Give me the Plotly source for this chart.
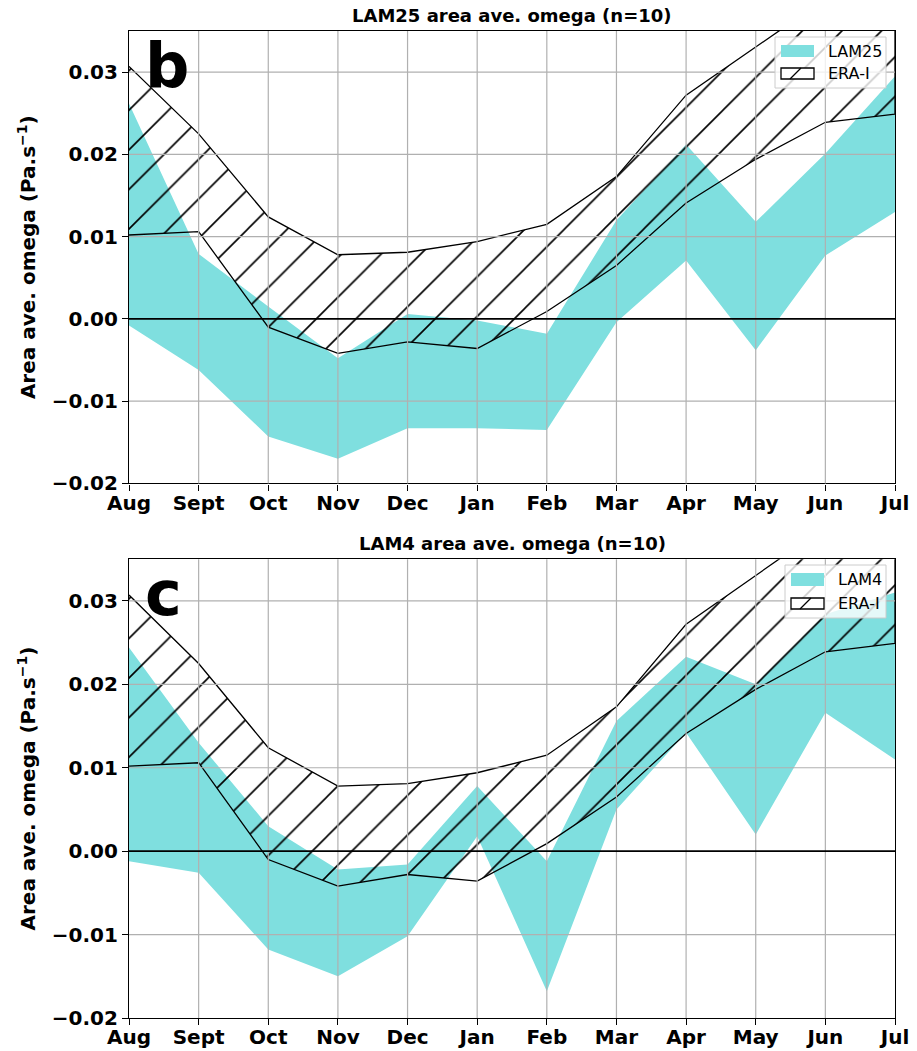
import plotly.graph_objects as go

months = ["Aug", "Sept", "Oct", "Nov", "Dec", "Jan", "Feb", "Mar", "Apr", "May", "Jun", "Jul"]
era_upper = [0.0307, 0.0225, 0.0124, 0.0078, 0.0081, 0.0094, 0.0115, 0.0173, 0.0272, 0.0330, 0.0389, 0.0430]
era_lower = [0.0102, 0.0106, -0.0010, -0.0042, -0.0028, -0.0036, 0.0009, 0.0065, 0.0141, 0.0194, 0.0239, 0.0249]
lam25_upper = [0.0262, 0.0079, 0.0015, -0.0048, 0.0006, -0.0002, -0.0018, 0.0120, 0.0212, 0.0118, 0.0201, 0.0295]
lam25_lower = [-0.0008, -0.0062, -0.0143, -0.0170, -0.0133, -0.0133, -0.0135, -0.0004, 0.0071, -0.0038, 0.0077, 0.0130]
lam4_upper = [0.0244, 0.0130, 0.0030, -0.0022, -0.0016, 0.0078, -0.0012, 0.0156, 0.0233, 0.0200, 0.0284, 0.0310]
lam4_lower = [-0.0012, -0.0026, -0.0118, -0.0150, -0.0102, 0.0018, -0.0168, 0.0050, 0.0142, 0.0020, 0.0166, 0.0110]
ytick_vals = [-0.02, -0.01, 0.0, 0.01, 0.02, 0.03]
ytick_text = ["\u22120.02", "\u22120.01", "0.00", "0.01", "0.02", "0.03"]
panels = [("LAM25", lam25_upper, lam25_lower, "b", "LAM25 area ave. omega (n=10)"),
          ("LAM4", lam4_upper, lam4_lower, "c", "LAM4 area ave. omega (n=10)")]

CYAN = "#7fdfdf"
FONT = "DejaVu Sans"
W, H = 917, 1051
ML, MR, MT, MB = 129, 22, 31, 33
idx = list(range(len(months)))
xpoly = idx + idx[::-1]

# pixel extents of the two plot areas (top, bottom)
PANEL_PX = [(31.0, 483.4), (559.2, 1018.0)]
paper_h = H - MT - MB
domains = [[(H - MB - b) / paper_h, (H - MB - t) / paper_h] for t, b in PANEL_PX]
domains[0][1] = 1.0
domains[1][0] = 0.0

fig = go.Figure()
for i, (name, up, lo, letter, title) in enumerate(panels):
    ax = "" if i == 0 else "2"
    fig.add_trace(go.Scatter(
        x=xpoly, y=up + lo[::-1], fill="toself", fillcolor=CYAN,
        mode="lines", line=dict(width=0, color=CYAN), name=name,
        xaxis="x" + ax, yaxis="y" + ax, showlegend=False, hoverinfo="skip"))
    fig.add_trace(go.Scatter(
        x=xpoly, y=era_upper + era_lower[::-1], fill="toself",
        fillcolor="rgba(0,0,0,0)",
        fillpattern=dict(shape="/", fgcolor="black", bgcolor="rgba(0,0,0,0)",
                         fgopacity=1, size=28, solidity=0.058),
        mode="lines", line=dict(width=1.3, color="black"), name="ERA-I",
        xaxis="x" + ax, yaxis="y" + ax, showlegend=False, hoverinfo="skip"))

axis_common = dict(showline=True, mirror=True, linecolor="black", linewidth=1.3,
                   ticks="outside", ticklen=6, tickwidth=1.3, tickcolor="black",
                   showgrid=False, zeroline=False, automargin=False,
                   tickfont=dict(family=FONT, size=20, color="black", weight="bold"))


def fx(px):
    return (px - ML) / (W - ML - MR)


def fy(i, py):
    t, b = PANEL_PX[i]
    return (b - py) / (b - t)


# manual legend geometry in pixels: box, patch rows, text x
LEGENDS = [
    dict(box=(775, 37, 886, 88), patch_x=(781, 814), rows=[(45, 57), (68, 79)], tx=826),
    dict(box=(785, 565, 886, 618), patch_x=(791, 824), rows=[(573, 586), (598, 609)], tx=836),
]

shapes = []
annotations = []
for i, (name, up, lo, letter, title) in enumerate(panels):
    ax = "" if i == 0 else "2"
    xd, yd = "x" + ax + " domain", "y" + ax + " domain"
    # grid lines (drawn above fills like matplotlib)
    for k in idx[1:-1]:
        shapes.append(dict(type="line", xref="x" + ax, yref=yd,
                           x0=k, x1=k, y0=0, y1=1, layer="above",
                           line=dict(color="#b0b0b0", width=1.2)))
    for v in ytick_vals[1:]:
        shapes.append(dict(type="line", xref=xd, yref="y" + ax,
                           x0=0, x1=1, y0=v, y1=v, layer="above",
                           line=dict(color="#b0b0b0" if v != 0 else "black",
                                     width=1.2 if v != 0 else 1.6)))
    # legend
    L = LEGENDS[i]
    bx0, by0, bx1, by1 = L["box"]
    shapes.append(dict(type="rect", xref=xd, yref=yd, layer="above",
                       x0=fx(bx0), x1=fx(bx1), y0=fy(i, by1), y1=fy(i, by0),
                       fillcolor="rgba(255,255,255,0.8)",
                       line=dict(color="#cccccc", width=1)))
    px0, px1 = L["patch_x"]
    (r0a, r0b), (r1a, r1b) = L["rows"]
    shapes.append(dict(type="rect", xref=xd, yref=yd, layer="above",
                       x0=fx(px0), x1=fx(px1), y0=fy(i, r0b), y1=fy(i, r0a),
                       fillcolor=CYAN, line=dict(width=0)))
    shapes.append(dict(type="rect", xref=xd, yref=yd, layer="above",
                       x0=fx(px0), x1=fx(px1), y0=fy(i, r1b), y1=fy(i, r1a),
                       fillcolor="white", line=dict(color="black", width=1.3)))
    shapes.append(dict(type="line", xref=xd, yref=yd, layer="above",
                       x0=fx(px0 + 9), x1=fx(px0 + 20), y0=fy(i, r1b), y1=fy(i, r1a),
                       line=dict(color="black", width=1.3)))
    for label, (ra, rb) in zip([name, "ERA-I"], L["rows"]):
        annotations.append(dict(text=label, xref=xd, yref=yd, x=fx(L["tx"]),
                                y=fy(i, (ra + rb) / 2), xanchor="left", yanchor="middle",
                                showarrow=False,
                                font=dict(family=FONT, size=16, color="black")))
    annotations.append(dict(text=title, xref=xd, yref=yd,
                            x=0.5, y=1, xanchor="center", yanchor="bottom", yshift=3,
                            showarrow=False,
                            font=dict(family=FONT, size=18, color="black", weight="bold")))
    annotations.append(dict(text=letter, xref=xd, yref=yd,
                            x=0.0185, y=1, xanchor="left", yanchor="top", yshift=4,
                            showarrow=False,
                            font=dict(family=FONT, size=62, color="black", weight="bold")))

ytitle = dict(text="Area ave. omega (Pa.s<sup>\u22121</sup>)", standoff=10,
              font=dict(family=FONT, size=20, color="black", weight="bold"))
fig.update_layout(
    width=W, height=H,
    margin=dict(l=ML, r=MR, t=MT, b=MB),
    plot_bgcolor="white", paper_bgcolor="white",
    xaxis=dict(domain=[0, 1], range=[0, 11], tickvals=idx, ticktext=months,
               anchor="y", ticklabelstandoff=-5, **axis_common),
    yaxis=dict(domain=domains[0], range=[-0.02, 0.035], tickvals=ytick_vals,
               ticktext=ytick_text, anchor="x", title=ytitle, **axis_common),
    xaxis2=dict(domain=[0, 1], range=[0, 11], tickvals=idx, ticktext=months,
                anchor="y2", ticklabelstandoff=-5, **axis_common),
    yaxis2=dict(domain=domains[1], range=[-0.02, 0.035], tickvals=ytick_vals,
                ticktext=ytick_text, anchor="x2", title=ytitle, **axis_common),
    shapes=shapes, annotations=annotations, showlegend=False,
)

fig.write_html("out.html", config={"displayModeBar": False},
               post_script="document.body.style.margin='0px';document.body.style.overflow='hidden';")
